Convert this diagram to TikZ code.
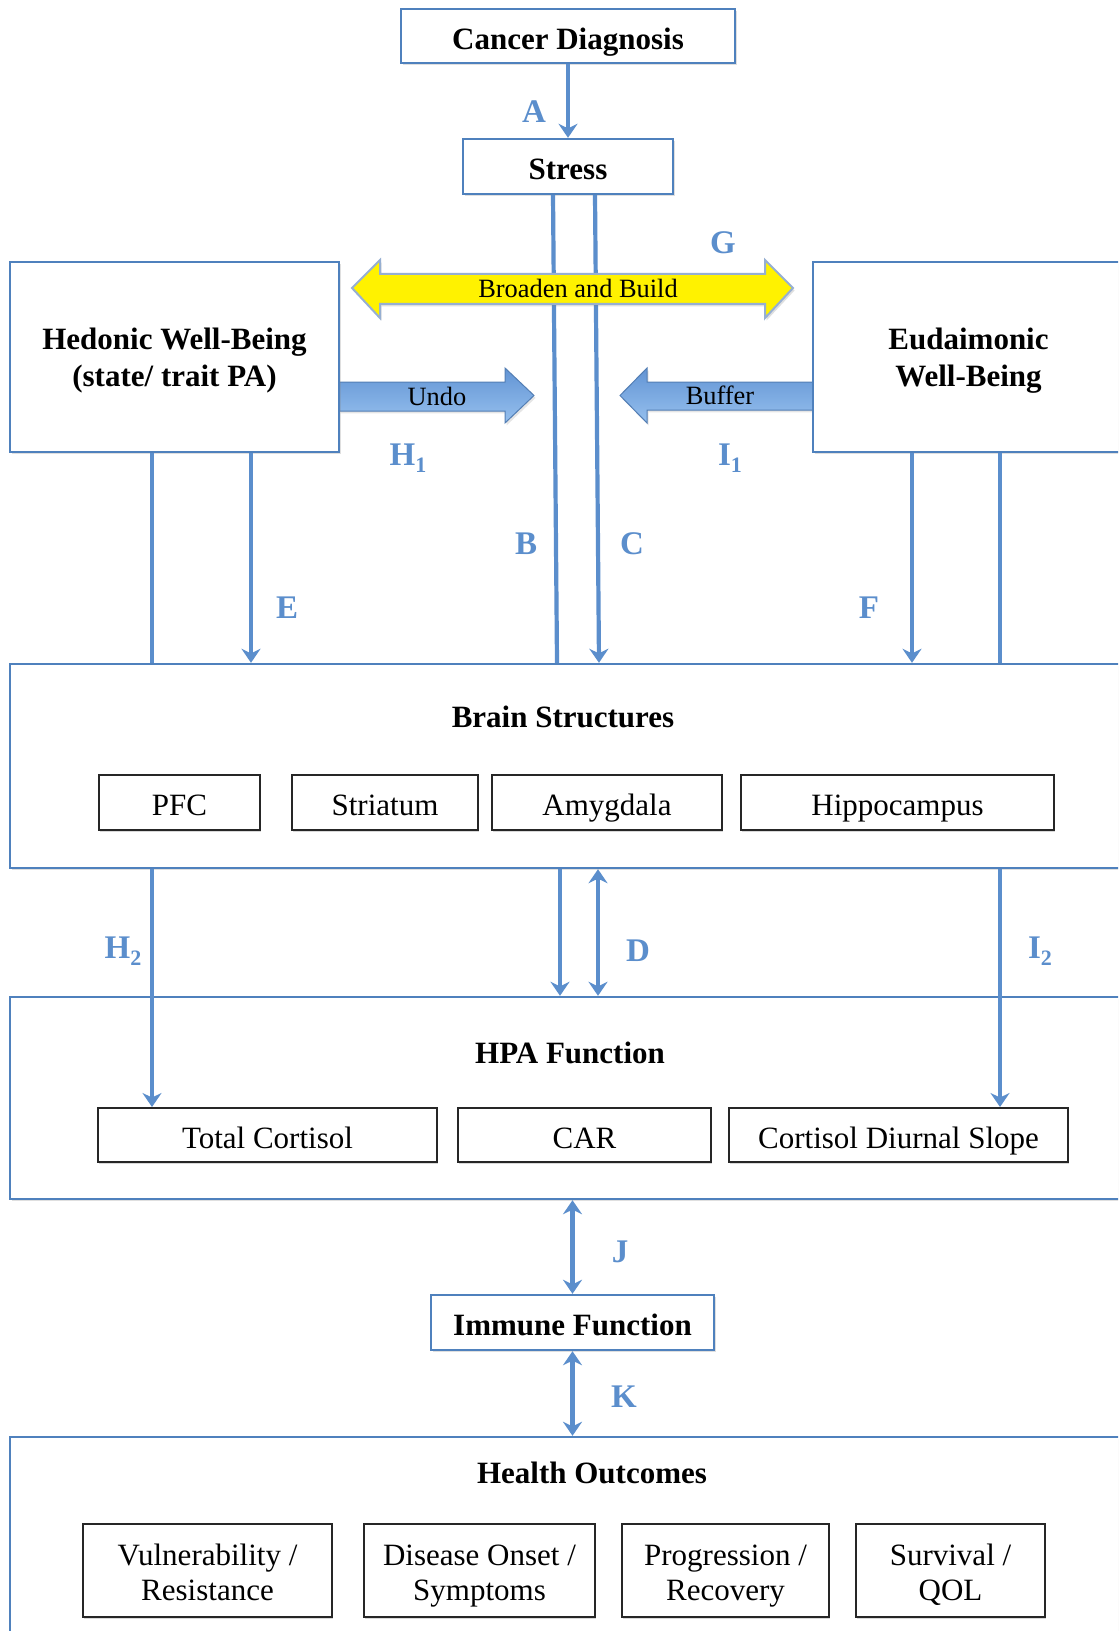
\documentclass[tikz,border=0pt]{standalone}
\usepackage{fontspec}
\setmainfont{Liberation Serif}
\usetikzlibrary{arrows.meta,fit,shadows,calc}
\definecolor{boxblue}{RGB}{79,129,189}
\definecolor{arrblue}{RGB}{91,142,204}
\definecolor{gradtop}{RGB}{98,148,212}
\definecolor{gradbot}{RGB}{150,192,238}
\definecolor{yedge}{RGB}{150,175,210}
\newcommand\ftitle{\fontsize{15.5}{18.35}\selectfont\bfseries}
\newcommand\fsub{\fontsize{15.5}{17.85}\selectfont}
\newcommand\farr{\fontsize{13.2}{15}\selectfont}
\newcommand\flab{\fontsize{16.5}{18}\selectfont\bfseries}
\newcommand\sbs[1]{\raisebox{-3.5pt}{\fontsize{11}{11}\selectfont\bfseries #1}}
\tikzset{
  bigbox/.style={draw=boxblue, line width=1.2pt, fill=white, inner sep=0pt,
    drop shadow={shadow xshift=0.8pt, shadow yshift=-1.2pt, opacity=0.25}},
  subbox/.style={draw=black!85, line width=1pt, fill=white, inner sep=0pt,
    drop shadow={shadow xshift=0.6pt, shadow yshift=-0.8pt, opacity=0.3}},
  tt/.style={label={[font=\ftitle, inner sep=0pt, text height=0.7em, text depth=0.2em, yshift=-4.2pt]center:#1}},
  tt2/.style={label={[font=\ftitle, align=center, inner sep=0pt, yshift=-1.7pt]center:#1}},
  st/.style={label={[font=\fsub, inner sep=0pt, text height=0.7em, text depth=0.2em, yshift=-4.2pt]center:#1}},
  st2/.style={label={[font=\fsub, align=center, inner sep=0pt, yshift=-2.6pt]center:#1}},
  conn/.style={draw=arrblue, line width=2.1pt},
  arr/.style={conn, -{Stealth[length=7pt,width=9.5pt]}},
  darr/.style={conn, {Stealth[length=7pt,width=9.5pt]}-{Stealth[length=7pt,width=9.5pt]}},
  lab/.style={text=arrblue, font=\flab, inner sep=0pt},
  blockarrow/.style={draw=gradtop!85!black, line width=0.5pt, top color=gradtop, bottom color=gradbot},
}
\begin{document}
\begin{tikzpicture}[x=0.5pt, y=-0.5pt]
\useasboundingbox (0,0) rectangle (1118,1631);
\fill[white] (0,0) rectangle (1118,1631);
\clip (0,0) rectangle (1118,1631);

% x positions
\coordinate (xBt) at (553,0);
\coordinate (xBb) at (557,0);
\coordinate (xCt) at (595,0);
\coordinate (xCb) at (599,0);
\coordinate (xL) at (152,0);
\coordinate (xE) at (251,0);
\coordinate (xF) at (912,0);
\coordinate (xR) at (1000,0);
\coordinate (xD1) at (560,0);
\coordinate (xD2) at (598,0);

% main boxes
\node[bigbox, fit={(401,9)(735,63)}, tt={Cancer Diagnosis}] (cd) {};
\node[bigbox, fit={(463,139)(673,194)}, tt={Stress}] (stress) {};

% Undo and Buffer arrows (behind the boxes' edges)
\path[blockarrow, drop shadow={shadow xshift=0.8pt, shadow yshift=-1.2pt, opacity=0.2}]
  (339,382) -- (505,382) -- (505,368) -- (534,395.5) -- (505,423) -- (505,411) -- (339,411) -- cycle;
\node[font=\farr, inner sep=0pt] (undo) at (437,396) {Undo};
\path[blockarrow, drop shadow={shadow xshift=0.8pt, shadow yshift=-1.2pt, opacity=0.2}]
  (813,382) -- (647,382) -- (647,368) -- (620,395.5) -- (647,423) -- (647,410) -- (813,410) -- cycle;
\node[font=\farr, inner sep=0pt] (buffer) at (720,395) {Buffer};

\node[bigbox, fit={(10,262)(339,452)}, tt2={\strut Hedonic Well-Being\\\strut(state/ trait PA)}] (hed) {};
\node[bigbox, fit={(813,262)(1124,452)}, tt2={\strut Eudaimonic\\\strut Well-Being}] (eud) {};

\node[bigbox, fit={(10,664)(1135,868)}] (brain) {};
\node[font=\ftitle, inner sep=0pt] (brainT) at (563,717) {Brain Structures};
\node[subbox, fit={(99,775)(260,830)}, st={PFC}] (pfc) {};
\node[subbox, fit={(292,775)(478,830)}, st={Striatum}] (stri) {};
\node[subbox, fit={(492,775)(722,830)}, st={Amygdala}] (amy) {};
\node[subbox, fit={(741,775)(1054,830)}, st={Hippocampus}] (hip) {};

\node[bigbox, fit={(10,997)(1135,1199)}] (hpa) {};
\node[font=\ftitle, inner sep=0pt] (hpaT) at (570,1053) {HPA Function};
\node[subbox, fit={(98,1108)(437,1162)}, st={Total Cortisol}] (tc) {};
\node[subbox, fit={(458,1108)(711,1162)}, st={CAR}] (car) {};
\node[subbox, fit={(729,1108)(1068,1162)}, st={Cortisol Diurnal Slope}] (cds) {};

\node[bigbox, fit={(431,1295)(714,1350)}, tt={Immune Function}] (imm) {};

\node[bigbox, fit={(10,1437)(1135,1700)}] (health) {};
\node[font=\ftitle, inner sep=0pt] (healthT) at (592,1473) {Health Outcomes};
\node[subbox, fit={(83,1524)(332,1617)}, st2={\strut Vulnerability /\\\strut Resistance}] (o1) {};
\node[subbox, fit={(364,1524)(595,1617)}, st2={\strut Disease Onset /\\\strut Symptoms}] (o2) {};
\node[subbox, fit={(622,1524)(829,1617)}, st2={\strut Progression /\\\strut Recovery}] (o3) {};
\node[subbox, fit={(856,1524)(1045,1617)}, st2={\strut Survival /\\\strut QOL}] (o4) {};

% connectors
\draw[arr] (cd.south) -- (stress.north);
\draw[conn] (stress.south -| xBt) -- (brain.north -| xBb);
\draw[arr] (stress.south -| xCt) -- (brain.north -| xCb);
\draw[conn] (hed.south -| xL) -- (brain.north -| xL);
\draw[arr] (hed.south -| xE) -- (brain.north -| xE);
\draw[arr] (eud.south -| xF) -- (brain.north -| xF);
\draw[conn] (eud.south -| xR) -- (brain.north -| xR);
\draw[arr] (brain.south -| xL) -- (tc.north -| xL);
\draw[arr] (brain.south -| xR) -- (cds.north -| xR);
\draw[arr] (brain.south -| xD1) -- (hpa.north -| xD1);
\draw[darr] (brain.south -| xD2) -- (hpa.north -| xD2);
\draw[darr] (hpa.south -| imm.north) -- (imm.north);
\draw[darr] (imm.south) -- (health.north -| imm.south);

% Broaden and Build arrow (over the B and C lines)
\path[fill=yellow, draw=yedge, line width=1pt,
  drop shadow={shadow xshift=0.8pt, shadow yshift=-1.2pt, opacity=0.25}]
  (352,288) -- (380,260) -- (380,274) -- (765,274) -- (765,260) -- (793,288)
  -- (765,318) -- (765,304) -- (380,304) -- (380,318) -- cycle;
\node[font=\farr, inner sep=0pt] (bb) at (578,288) {Broaden and Build};

% labels
\node[lab] (lA) at (534,112) {A};
\node[lab] (lG) at (723,243) {G};
\node[lab] (lH1) at (408,458) {H\sbs{1}};
\node[lab] (lI1) at (730,458) {I\sbs{1}};
\node[lab] (lB) at (526,544) {B};
\node[lab] (lC) at (632,544) {C};
\node[lab] (lE) at (287,608) {E};
\node[lab] (lF) at (869,608) {F};
\node[lab] (lH2) at (123,951) {H\sbs{2}};
\node[lab] (lD) at (638,951) {D};
\node[lab] (lI2) at (1040,951) {I\sbs{2}};
\node[lab] (lJ) at (620,1252) {J};
\node[lab] (lK) at (624,1397) {K};
\end{tikzpicture}
\end{document}
